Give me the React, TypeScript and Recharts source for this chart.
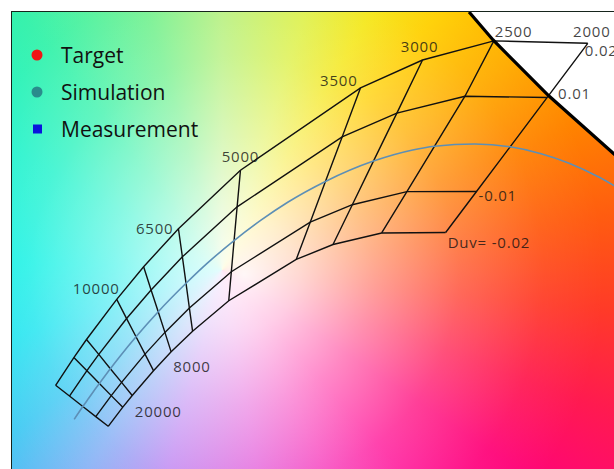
import { ComposedChart, Line, Area, Scatter, XAxis, YAxis, Legend } from 'recharts'

type Pt = { x: number; y: number }

// CIE 1931 x,y chromaticity. Each isotherm: nodes at Duv +0.02, +0.01, 0, -0.01, -0.02
const iso50000: Pt[] = [
  { x: 0.2277, y: 0.2564 }, { x: 0.2368, y: 0.2493 }, { x: 0.2456, y: 0.2424 }, { x: 0.2541, y: 0.2358 }, { x: 0.2623, y: 0.2294 },
]
const iso20000: Pt[] = [
  { x: 0.2397, y: 0.2746 }, { x: 0.2483, y: 0.266 }, { x: 0.2565, y: 0.2576 }, { x: 0.2643, y: 0.2496 }, { x: 0.2719, y: 0.242 },
]
const iso15000: Pt[] = [
  { x: 0.248, y: 0.2865 }, { x: 0.2561, y: 0.2767 }, { x: 0.2637, y: 0.2673 }, { x: 0.2711, y: 0.2583 }, { x: 0.2781, y: 0.2497 },
]
const iso10000: Pt[] = [
  { x: 0.2679, y: 0.3129 }, { x: 0.2744, y: 0.3003 }, { x: 0.2806, y: 0.2883 }, { x: 0.2865, y: 0.2769 }, { x: 0.2921, y: 0.266 },
]
const iso8000: Pt[] = [
  { x: 0.2856, y: 0.3344 }, { x: 0.2905, y: 0.3191 }, { x: 0.2952, y: 0.3048 }, { x: 0.2996, y: 0.2912 }, { x: 0.3037, y: 0.2784 },
]
const iso6500: Pt[] = [
  { x: 0.3085, y: 0.3594 }, { x: 0.3111, y: 0.3409 }, { x: 0.3135, y: 0.3235 }, { x: 0.3157, y: 0.3072 }, { x: 0.3178, y: 0.292 },
]
const iso5000: Pt[] = [
  { x: 0.3493, y: 0.3979 }, { x: 0.3471, y: 0.3738 }, { x: 0.3451, y: 0.3516 }, { x: 0.3433, y: 0.3311 }, { x: 0.3416, y: 0.312 },
]
const iso3500: Pt[] = [
  { x: 0.4283, y: 0.4521 }, { x: 0.4162, y: 0.4198 }, { x: 0.4052, y: 0.3905 }, { x: 0.3952, y: 0.3637 }, { x: 0.386, y: 0.3392 },
]
const iso3000: Pt[] = [
  { x: 0.4691, y: 0.4704 }, { x: 0.4522, y: 0.4355 }, { x: 0.4368, y: 0.4039 }, { x: 0.4229, y: 0.3752 }, { x: 0.4102, y: 0.349 },
]
const iso2500: Pt[] = [
  { x: 0.516, y: 0.483 }, { x: 0.497, y: 0.4466 }, { x: 0.477, y: 0.4137 }, { x: 0.4588, y: 0.3838 }, { x: 0.4422, y: 0.3566 },
]
const iso2000: Pt[] = [
  { x: 0.5778, y: 0.4814 }, { x: 0.551, y: 0.4457 }, { x: 0.5267, y: 0.4133 }, { x: 0.5046, y: 0.3839 }, { x: 0.4843, y: 0.3569 },
]

const isotherms = [iso50000, iso20000, iso15000, iso10000, iso8000, iso6500, iso5000, iso3500, iso3000, iso2500, iso2000]

// Planckian locus (Duv = 0)
const planck: Pt[] = [
  { x: 0.2399, y: 0.234 }, { x: 0.2456, y: 0.2424 }, { x: 0.2489, y: 0.2471 }, { x: 0.2525, y: 0.2522 },
  { x: 0.2565, y: 0.2576 }, { x: 0.2637, y: 0.2673 }, { x: 0.2701, y: 0.2755 }, { x: 0.2806, y: 0.2883 },
  { x: 0.2952, y: 0.3048 }, { x: 0.3135, y: 0.3235 }, { x: 0.3277, y: 0.3369 }, { x: 0.3451, y: 0.3516 },
  { x: 0.3628, y: 0.365 }, { x: 0.3804, y: 0.3768 }, { x: 0.4052, y: 0.3905 }, { x: 0.4368, y: 0.4039 },
  { x: 0.4626, y: 0.4112 }, { x: 0.477, y: 0.4137 }, { x: 0.5034, y: 0.4152 }, { x: 0.5267, y: 0.4133 },
  { x: 0.5471, y: 0.4088 }, { x: 0.5651, y: 0.4027 }, { x: 0.5857, y: 0.3931 }, { x: 0.6528, y: 0.3444 },
]

// spectrum locus edge (top right)
const spectrumEdge: Pt[] = [
  { x: 0.4997, y: 0.502 }, { x: 0.5155, y: 0.4836 }, { x: 0.5523, y: 0.4467 }, { x: 0.5951, y: 0.4086 }, { x: 0.6122, y: 0.3914 },
]

const cctLabels = [
  { ...iso2500[0], text: '2500' },
  { ...iso2000[0], text: '2000' },
  { ...iso3000[0], text: '3000' },
  { ...iso3500[0], text: '3500' },
  { ...iso5000[0], text: '5000' },
  { ...iso6500[0], text: '6500' },
  { ...iso10000[0], text: '10000' },
  { ...iso8000[4], text: '8000' },
  { ...iso20000[4], text: '20000' },
]
const duvLabels = [
  { ...iso2000[0], text: '0.02' },
  { ...iso2000[1], text: '0.01' },
  { ...iso2000[3], text: '-0.01' },
  { ...iso2000[4], text: 'Duv= -0.02' },
]

const legendNames = ['Target', 'Simulation', 'Measurement']

const duvLines = [0, 1, 3, 4].map(i => isotherms.map(t => t[i]))

// text placement relative to its node, pixels
const place: Record<string, [number, number, 'start' | 'middle' | 'end']> = {
  '2500': [1, -4, 'start'],
  '2000': [4, -6, 'middle'],
  '3000': [-3, -8, 'middle'],
  '3500': [-3, -2, 'end'],
  '5000': [0, -8, 'middle'],
  '6500': [-5, 5, 'end'],
  '10000': [3, -5, 'end'],
  '8000': [2, 20, 'start'],
  '20000': [12, 10, 'start'],
  '0.02': [-3, 13, 'start'],
  '0.01': [11, 1, 'start'],
  '-0.01': [2, 10, 'start'],
  'Duv= -0.02': [2, 15, 'start'],
}

const BG = [
  'radial-gradient(circle at 232px 262px, rgba(255,255,255,0.96) 0px, rgba(255,255,255,0.8) 55px, rgba(255,255,255,0.52) 130px, rgba(255,255,255,0.24) 215px, rgba(255,255,255,0.06) 300px, rgba(255,255,255,0) 360px)',
  'conic-gradient(from 0deg at 210px 258px, #b4f07a 0deg, #dcf040 18deg, #f4e610 30deg, #ffd000 40deg, #ffac00 54deg, #ff8200 68deg, #ff5c10 82deg, #ff3a28 96deg, #ff1a50 110deg, #ff0478 124deg, #ff0a94 138deg, #f628b4 152deg, #e04cd6 170deg, #b878f0 195deg, #7aa8f4 214deg, #34c6f2 232deg, #0ce2ee 252deg, #00f0e2 272deg, #14f2c8 300deg, #34f2aa 322deg, #70f08c 344deg, #b4f07a 360deg)',
].join(', ')

const FONT = '"Open Sans", "Noto Sans", sans-serif'

function NodeLabel(props: any) {
  const { cx, cy, payload } = props
  const p = place[payload.text] || [0, 0, 'start']
  return (
    <text x={cx + p[0]} y={cy + p[1]} textAnchor={p[2]} fontFamily={FONT} fontSize={15}
      letterSpacing={0.8} fill="#111" fillOpacity={0.8}>
      {payload.text}
    </text>
  )
}

function LegendBox({ payload }: any) {
  const items = (payload || [])
    .filter((p: any) => legendNames.includes(p.value))
    .sort((a: any, b: any) => legendNames.indexOf(a.value) - legendNames.indexOf(b.value))
  return (
    <svg width={220} height={150}>
      {items.map((p: any, i: number) => {
        const cy = 55 + i * 37
        return (
          <g key={p.value}>
            {p.type === 'square'
              ? <rect x={33} y={cy - 4.5} width={9} height={9} fill={p.color} />
              : <circle cx={37} cy={cy} r={5.5} fill={p.color} />}
            <text x={61} y={cy + 8} fontFamily={FONT} fontSize={21} fill="#111">{p.value}</text>
          </g>
        )
      })}
    </svg>
  )
}

export default function App() {
  return (
    <div style={{ position: 'fixed', left: 0, top: 0, width: 614, height: 469, overflow: 'hidden', background: '#fff' }}>
      <div style={{ position: 'absolute', left: 12, top: 12, width: 608, height: 459, background: BG }} />
      <div style={{ position: 'absolute', left: 0, top: 0 }}>
        <ComposedChart width={640} height={490} margin={{ top: 12, left: 12, right: 20, bottom: 19 }}>
          <XAxis type="number" dataKey="x" domain={[0.199, 0.599]} allowDataOverflow hide />
          <YAxis type="number" dataKey="y" domain={[0.2, 0.502]} allowDataOverflow hide />
          <Area data={spectrumEdge} dataKey="y" type="linear" baseValue="dataMax" fill="#fff" fillOpacity={1}
            stroke="none" isAnimationActive={false} legendType="none" />
          {duvLines.map((pts, i) => (
            <Line key={'duv' + i} data={pts} dataKey="y" type="linear" stroke="#111" strokeWidth={1.4}
              dot={false} isAnimationActive={false} legendType="none" />
          ))}
          {isotherms.map((pts, i) => (
            <Line key={'iso' + i} data={pts} dataKey="y" type="linear" stroke="#111" strokeWidth={1.4}
              dot={false} isAnimationActive={false} legendType="none" />
          ))}
          <Line data={planck} dataKey="y" type="monotone" stroke="#5d8fb6" strokeWidth={1.6}
            dot={false} isAnimationActive={false} legendType="none" />
          <Line data={spectrumEdge} dataKey="y" type="linear" stroke="#000" strokeWidth={3.2}
            dot={false} isAnimationActive={false} legendType="none" />
          <Scatter data={cctLabels} shape={NodeLabel} isAnimationActive={false} legendType="none" />
          <Scatter data={duvLabels} shape={NodeLabel} isAnimationActive={false} legendType="none" />
          <Scatter name="Target" data={[]} fill="#f01414" isAnimationActive={false} legendType="circle" />
          <Scatter name="Simulation" data={[]} fill="#2a8c8c" isAnimationActive={false} legendType="circle" />
          <Scatter name="Measurement" data={[]} fill="#0a14dc" isAnimationActive={false} legendType="square" />
          <Legend layout="vertical" align="center" verticalAlign="middle" content={LegendBox}
            wrapperStyle={{ left: 0, top: 0, width: 220, height: 150 }} />
        </ComposedChart>
      </div>
      <div style={{ position: 'absolute', left: 11, top: 11, width: 640, height: 480, borderLeft: '1.5px solid #16241c', borderTop: '1.5px solid #16241c', pointerEvents: 'none', zIndex: 10 }} />
    </div>
  )
}
